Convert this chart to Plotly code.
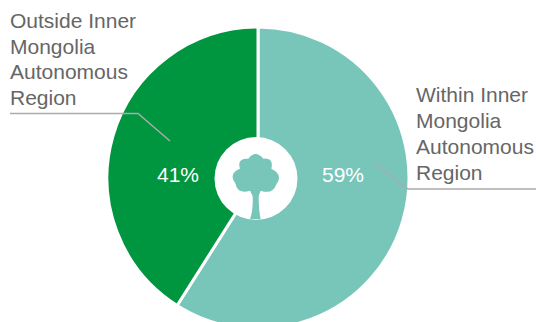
import plotly.graph_objects as go

categories = ["Within Inner Mongolia Autonomous Region", "Outside Inner Mongolia Autonomous Region"]
values = [59, 41]
colors = ["#78C6BA", "#009640"]
label_lines_right = ["Within Inner", "Mongolia", "Autonomous", "Region"]
label_lines_left = ["Outside Inner", "Mongolia", "Autonomous", "Region"]

W, H = 536, 356
def px(x): return x / W
def py(y): return 1 - y / H
def P(x, y): return f"{px(x):.5f},{py(y):.5f}"

def Z(x, y):  # zoom-crop coordinates of the icon to page pixels
    return P(x / 3 + 200, y / 3 + 120)

tree = (f"M{Z(150,212)} Q{Z(112,224)} {Z(106,190)} Q{Z(84,160)} {Z(120,146)} "
        f"Q{Z(110,114)} {Z(145,116)} Q{Z(166,88)} {Z(190,116)} Q{Z(222,113)} {Z(214,146)} "
        f"Q{Z(252,165)} {Z(228,195)} Q{Z(218,224)} {Z(182,212)} L{Z(176,228)} "
        f"Q{Z(176,270)} {Z(182,298)} L{Z(150,298)} Q{Z(160,270)} {Z(158,228)} Z")

fig = go.Figure(go.Pie(
    labels=categories, values=values, sort=False, direction="clockwise", rotation=0,
    hole=0.2, textinfo="none", hoverinfo="label+percent",
    marker=dict(colors=colors, line=dict(color="white", width=3)),
    domain=dict(x=[107 / W, 409 / W], y=[0, 1]), showlegend=False,
))

shapes = [
    dict(type="circle", xref="paper", yref="paper", x0=px(214.5), x1=px(297.5), y0=py(137), y1=py(220),
         fillcolor="white", line=dict(width=0)),
    dict(type="path", xref="paper", yref="paper", path=f"M{P(10,113.5)} L{P(138,113.5)} L{P(170,141)}",
         line=dict(color="#ABABAB", width=1.5)),
    dict(type="path", xref="paper", yref="paper", path=f"M{P(374,163)} L{P(408,189)} L{P(536,189)}",
         line=dict(color="#ABABAB", width=1.5)),
    dict(type="path", xref="paper", yref="paper", path=tree, fillcolor=colors[0], line=dict(width=0)),
]

family = "Liberation Sans, Arial, sans-serif"
font = dict(family=family, size=21, color="#666666")
ann = []
for i, t in enumerate(label_lines_left):
    ann.append(dict(text=t, x=px(10), y=py(20.5 + i * 25.7), xref="paper", yref="paper",
                    xanchor="left", yanchor="middle", showarrow=False, font=font, xshift=-2))
for i, t in enumerate(label_lines_right):
    ann.append(dict(text=t, x=px(415), y=py(95 + i * 25.7), xref="paper", yref="paper",
                    xanchor="left", yanchor="middle", showarrow=False, font=font, xshift=-1))
white = dict(family=family, size=21, color="white")
ann.append(dict(text=f"{values[1]}%", x=px(178), y=py(174), xref="paper", yref="paper",
                xanchor="center", yanchor="middle", showarrow=False, font=white))
ann.append(dict(text=f"{values[0]}%", x=px(343), y=py(174), xref="paper", yref="paper",
                xanchor="center", yanchor="middle", showarrow=False, font=white))

fig.update_layout(width=W, height=H, margin=dict(l=0, r=0, t=0, b=0),
                  paper_bgcolor="white", shapes=shapes, annotations=ann)
fig.write_html("out.html", config=dict(displayModeBar=False),
               post_script="document.body.style.margin='0';document.documentElement.style.overflow='hidden';document.body.style.overflow='hidden';")
